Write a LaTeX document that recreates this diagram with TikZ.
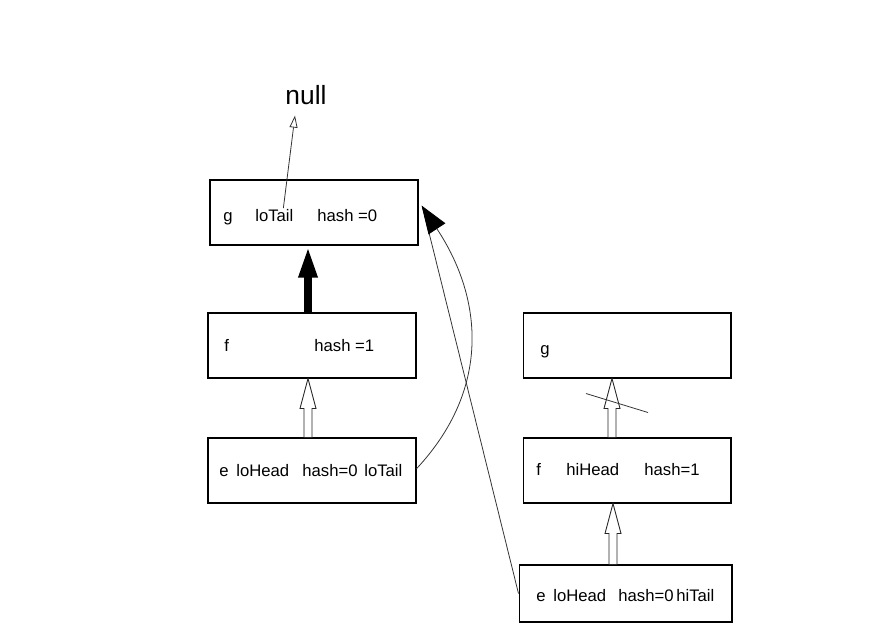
\documentclass[tikz,border=0pt]{standalone}
\usepackage{fontspec}
\setmainfont{Liberation Sans}
\usetikzlibrary{arrows.meta,calc}
\tikzset{
  box/.style={draw,line width=0.6pt,minimum width=4.16cm,minimum height=1.3cm,inner sep=0pt},
  txt/.style={font=\fontsize{9.5}{11}\selectfont,inner sep=0pt,anchor=base west},
  ptr/.style={line width=0.45pt,draw=black!80},
  hollow/.style={line width=0.5pt,draw=black!85,fill=white},
}
\newcommand{\blockup}[3]{% from, to, x offset
\draw[hollow] ($(#2.south |- #1.north)+(#3-4,0)$) -- ($(#2.south)+(#3-4,30)$) -- ($(#2.south)+(#3-8,30)$)
  -- ($(#2.south)+(#3,0)$) -- ($(#2.south)+(#3+8,30)$) -- ($(#2.south)+(#3+4,30)$)
  -- ($(#2.south |- #1.north)+(#3+4,0)$) -- cycle;}
\begin{document}
\begin{tikzpicture}[x=0.02cm,y=-0.02cm]
\useasboundingbox (0,0) rectangle (875,644);
\node[box] (g1) at (314,212.5) {};
\node[box] (f1) at (312,345.5) {};
\node[box] (e1) at (312,470.5) {};
\node[box] (g2) at (627,345.5) {};
\node[box] (f2) at (627,470.5) {};
\node[box,minimum width=4.26cm,minimum height=1.14cm] (e2) at (625.5,593.5) {};
\node[anchor=base,inner sep=0pt,font=\fontsize{15}{17}\selectfont] (null) at (306,105) {null};
%texts
\node[txt] (g1a) at (223,222) {g};
\node[txt] (g1tail) at (255,222) {loTail};
\node[txt] (g1c) at (317,222) {hash =0};
\node[txt] (f1a) at (224,352) {f};
\node[txt] (f1b) at (314,352) {hash =1};
\node[txt] (e1a) at (219,477) {e};
\node[txt] (e1b) at (236,477) {loHead};
\node[txt] (e1c) at (302,477) {hash=0};
\node[txt] (e1d) at (364,477) {loTail};
\node[txt] (g2a) at (540,355) {g};
\node[txt] (f2a) at (536,476) {f};
\node[txt] (f2b) at (566,476) {hiHead};
\node[txt] (f2c) at (644,476) {hash=1};
\node[txt] (e2a) at (536,602) {e};
\node[txt] (e2b) at (553,602) {loHead};
\node[txt] (e2c) at (618,602) {hash=0};
\node[txt] (e2d) at (676,602) {hiTail};
%links
\draw[ptr,-{Triangle[open,length=0.24cm,width=0.16cm]}] ([shift={(9,-8)}]g1tail.center) -- ([shift={(-11,10)}]null.south);
\draw[line width=5pt,-{Triangle[length=0.64cm,width=0.34cm]}] ([shift={(-4,0)}]f1.north) -- ([shift={(-6,0)}]g1.south);
\blockup{e1}{f1}{-4}
\blockup{f2}{g2}{-15}
\blockup{e2}{f2}{-14}
\draw[ptr] ([shift={(-41,15)}]g2.south) -- ([shift={(21,34)}]g2.south);
\draw[ptr] (e2.west) -- ([shift={(4,-6)}]g1.east);
\draw[ptr,-{Triangle[black,length=0.56cm,width=0.4cm]}] ([yshift=1pt]e1.east) .. controls (490,390) and (484,300) .. ([shift={(3,-7)}]g1.east);
\end{tikzpicture}
\end{document}
